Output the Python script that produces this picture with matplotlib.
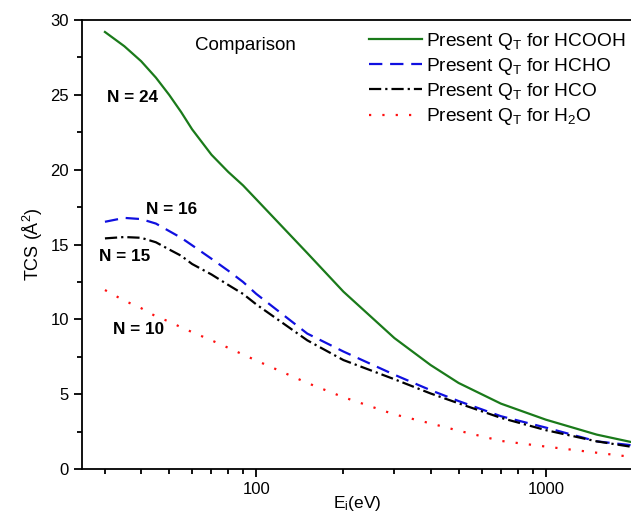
import matplotlib
matplotlib.use("Agg")
import matplotlib.pyplot as plt
from matplotlib.ticker import FixedLocator, MultipleLocator, NullFormatter

plt.rcParams['font.family'] = ['Liberation Sans', 'DejaVu Sans']
plt.rcParams['mathtext.fontset'] = 'custom'
plt.rcParams['mathtext.rm'] = 'Liberation Sans'
plt.rcParams['mathtext.it'] = 'Liberation Sans:italic'
plt.rcParams['mathtext.bf'] = 'Liberation Sans:bold'

# incident energy (eV)
energy = [30, 35, 40, 45, 50, 55, 60, 70, 80, 90, 100, 150, 200, 300, 400, 500, 700, 1000, 1500, 2000]

# total cross sections (A^2)
tcs_hcooh = [29.2, 28.25, 27.25, 26.15, 25.0, 23.85, 22.7, 21.0, 19.85, 18.95, 18.02, 14.43, 11.85, 8.75, 6.95, 5.75, 4.37, 3.3, 2.3, 1.78]
tcs_hcho = [16.52, 16.78, 16.7, 16.4, 15.9, 15.45, 14.95, 14.05, 13.25, 12.5, 11.7, 9.05, 7.85, 6.3, 5.27, 4.54, 3.53, 2.77, 1.85, 1.58]
tcs_hco = [15.41, 15.5, 15.45, 15.15, 14.67, 14.25, 13.7, 13.0, 12.3, 11.7, 11.0, 8.6, 7.28, 6.0, 5.05, 4.39, 3.42, 2.6, 1.85, 1.47]
tcs_h2o = [11.96, 11.25, 10.75, 10.2, 9.85, 9.47, 9.15, 8.6, 8.1, 7.65, 7.25, 5.75, 4.8, 3.65, 3.05, 2.56, 1.88, 1.5, 1.09, 0.8]

labels = ["Present Q$_\\mathrm{T}$ for HCOOH",
          "Present Q$_\\mathrm{T}$ for HCHO",
          "Present Q$_\\mathrm{T}$ for HCO",
          "Present Q$_\\mathrm{T}$ for H$_\\mathrm{2}$O"]

fig = plt.figure(figsize=(6.31, 5.20), dpi=100)
ax = fig.add_axes([0.13, 0.098, 0.873, 0.8635])

lw = 1.6
ax.plot(energy, tcs_hcooh, color='#1a7a1a', lw=lw, label=labels[0])
ax.plot(energy, tcs_hcho, color='#1010e0', lw=lw, dashes=(6, 3.5), label=labels[1])
ax.plot(energy, tcs_hco, color='black', lw=lw, dashes=(5.5, 1.8, 1, 1.8), label=labels[2])
ax.plot(energy, tcs_h2o, color='#ff1010', lw=lw, dashes=(1, 5), label=labels[3])

ax.set_xscale('log')
ax.set_xlim(25, 2000)
ax.set_ylim(0, 30)
ax.xaxis.set_major_locator(FixedLocator([100, 1000]))
ax.xaxis.set_major_formatter(plt.FuncFormatter(lambda v, p: "%d" % v))
ax.xaxis.set_minor_locator(FixedLocator([30, 40, 50, 60, 70, 80, 90, 200, 300, 400, 500, 600, 700, 800, 900]))
ax.xaxis.set_minor_formatter(NullFormatter())
ax.yaxis.set_major_locator(MultipleLocator(5))
ax.yaxis.set_minor_locator(MultipleLocator(2.5))

ax.tick_params(which='major', direction='out', length=6, width=1.3, labelsize=12)
ax.tick_params(which='minor', direction='out', length=3.5, width=1.3)
for s in ['left', 'bottom', 'top']:
    ax.spines[s].set_linewidth(1.3)
ax.spines['right'].set_visible(False)

ax.set_ylabel("TCS (Å$^2$)", fontsize=13, labelpad=4)
ax.set_xlabel("E$_\\mathrm{i}$(eV)", fontsize=12.5, labelpad=-2)

ax.text(92, 28.3, "Comparison", fontsize=13.5, ha='center', va='center')
ax.text(30.6, 24.85, "N = 24", fontsize=12.3, fontweight='bold', va='center')
ax.text(41.7, 17.37, "N = 16", fontsize=12.3, fontweight='bold', va='center')
ax.text(28.5, 14.2, "N = 15", fontsize=12.3, fontweight='bold', va='center')
ax.text(32.1, 9.29, "N = 10", fontsize=12.3, fontweight='bold', va='center')

ax.legend(loc='upper left', bbox_to_anchor=(0.497, 1.006), frameon=False, fontsize=13.8,
          handlelength=2.75, handletextpad=0.22, labelspacing=0.22, borderaxespad=0.3)

fig.savefig("out.png", dpi=100)
